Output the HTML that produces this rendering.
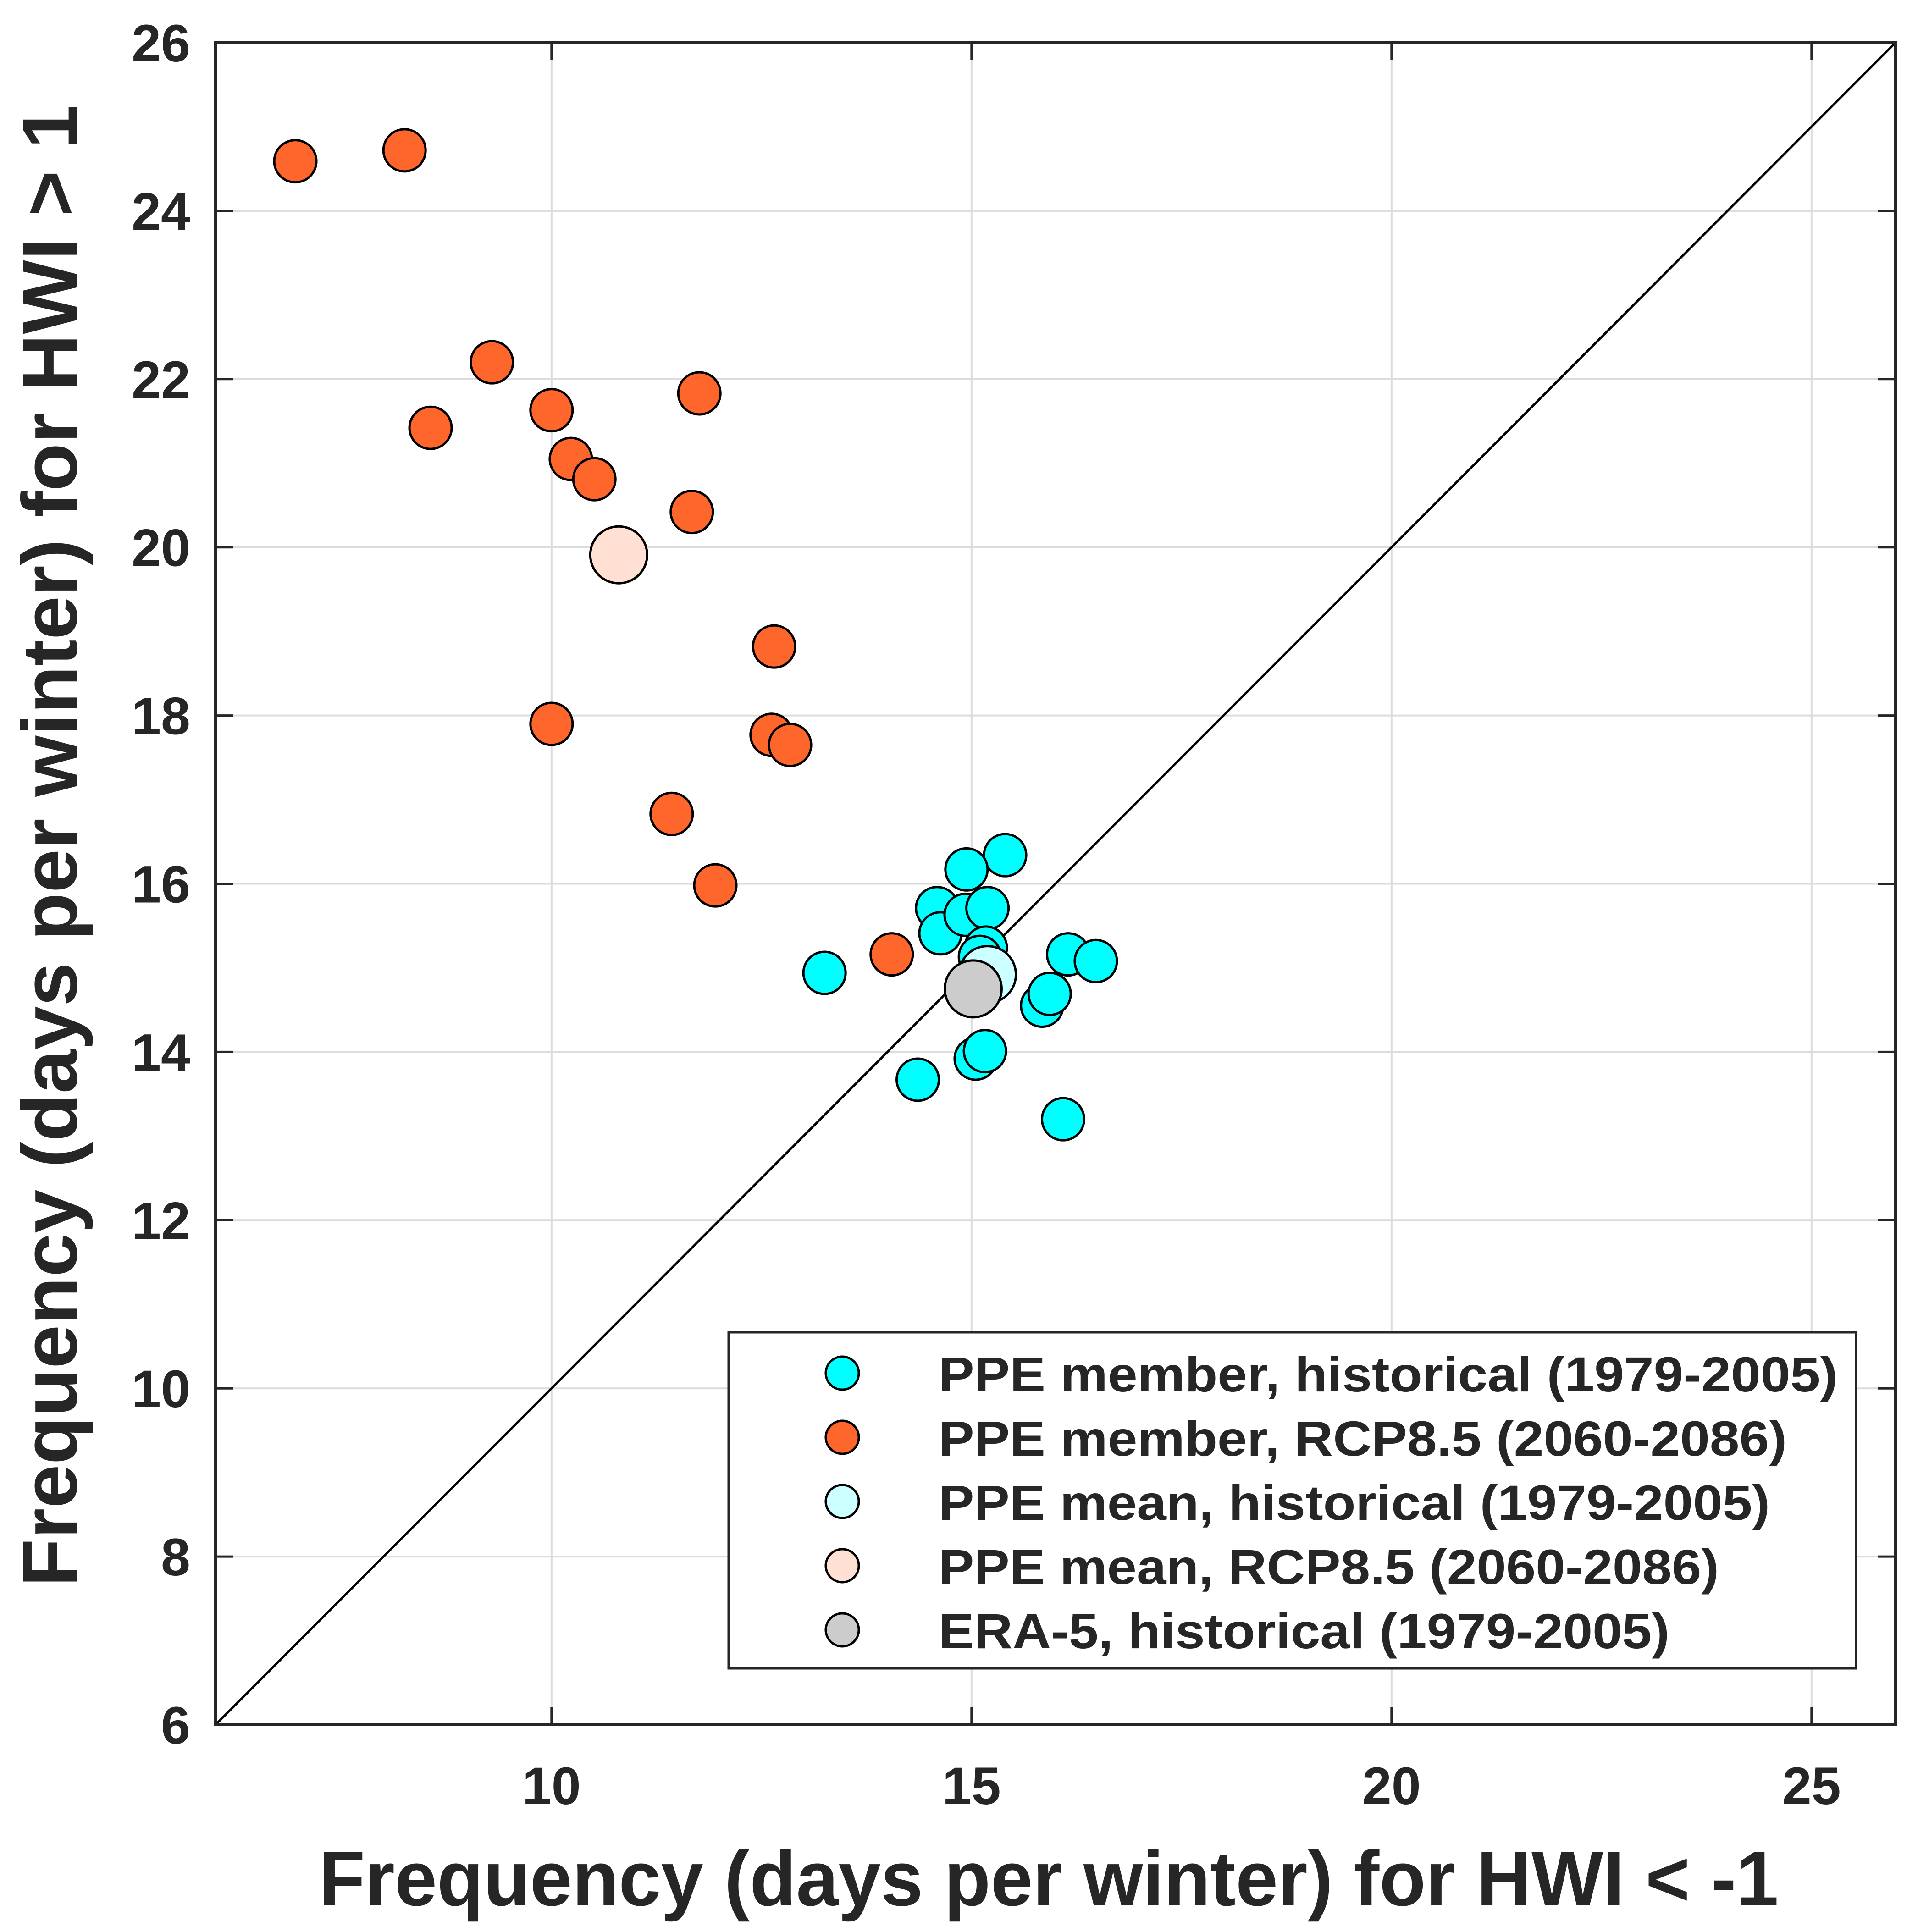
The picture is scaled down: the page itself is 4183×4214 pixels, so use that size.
<!DOCTYPE html>
<html><head><meta charset="utf-8"><style>
html,body{margin:0;padding:0;background:#fff}
svg{display:block}
text{font-family:"Liberation Sans",Arial,sans-serif;font-weight:bold;fill:#262626}
</style></head><body>
<svg id="chart" width="4183" height="4214" viewBox="0 0 4183 4214" xmlns="http://www.w3.org/2000/svg">
<g id="grid"></g>
<line id="diag" stroke="#000" stroke-width="5"/>
<g id="marks"></g>
<rect id="frame" fill="none" stroke="#262626" stroke-width="6"/>
<g id="ticks"></g>
<text x="2287" y="4156" font-size="170" text-anchor="middle" textLength="3184" lengthAdjust="spacingAndGlyphs">Frequency (days per winter) for HWI &lt; -1</text>
<text transform="translate(167,1845) rotate(-90)" font-size="170" text-anchor="middle" textLength="3232" lengthAdjust="spacingAndGlyphs">Frequency (days per winter) for HWI &gt; 1</text>
<g id="legend">
<rect x="1589" y="2906" width="2459" height="733" fill="#fff" stroke="#262626" stroke-width="5"/>
</g>
</svg>
<script>
const xTicks=[10,15,20,25];
const yTicks=[6,8,10,12,14,16,18,20,22,24,26];
const rcpX=[6.95,8.25,9.29,8.56,10.0,10.23,10.51,11.76,11.67,12.65,10.0,12.62,12.84,11.43,11.95,14.05];
const rcpY=[24.59,24.72,22.20,21.42,21.63,21.05,20.81,21.83,20.42,18.82,17.90,17.77,17.65,16.83,15.98,15.16];
const histX=[15.40,14.94,14.59,14.63,14.93,15.19,15.17,16.15,16.48,13.25,15.84,15.93,15.05,15.16,14.36,16.09,15.10];
const histY=[16.34,16.17,15.71,15.41,15.63,15.71,15.24,15.16,15.08,14.94,14.55,14.69,13.92,14.01,13.67,13.20,15.13];
const histMean=[15.19,14.92];
const rcpMean=[10.80,19.91];
const era5=[15.02,14.75];
const legendLabels=["PPE member, historical (1979-2005)","PPE member, RCP8.5 (2060-2086)","PPE mean, historical (1979-2005)","PPE mean, RCP8.5 (2060-2086)","ERA-5, historical (1979-2005)"];
const legendWidths=[1961,1850,1813,1702,1594];

const L=470,R=4134,T=93,B=3762,X0=6,X1=26,Y0=6,Y1=26;
const sx=v=>L+(v-X0)/(X1-X0)*(R-L);
const sy=v=>B-(v-Y0)/(Y1-Y0)*(B-T);
const NS='http://www.w3.org/2000/svg';
function mk(tag,attrs,parent){const e=document.createElementNS(NS,tag);for(const k in attrs)e.setAttribute(k,attrs[k]);parent.appendChild(e);return e;}
const grid=document.getElementById('grid'),ticks=document.getElementById('ticks'),marks=document.getElementById('marks'),chart=document.getElementById('chart');
const fr=document.getElementById('frame');fr.setAttribute('x',L);fr.setAttribute('y',T);fr.setAttribute('width',R-L);fr.setAttribute('height',B-T);
const dg=document.getElementById('diag');dg.setAttribute('x1',sx(6));dg.setAttribute('y1',sy(6));dg.setAttribute('x2',sx(26));dg.setAttribute('y2',sy(26));
xTicks.forEach(v=>{
  const x=sx(v);
  const g=mk('line',{x1:x,x2:x,y1:T,y2:B,stroke:'#dcdcdc','stroke-width':4},grid);
  
  
  [[T,T+38],[B,B-38]].forEach(p=>{const t=mk('line',{x1:x,x2:x,y1:p[0],y2:p[1],stroke:'#262626','stroke-width':5},ticks);
    
    });
  const lb=mk('text',{x:x,y:3935,'font-size':115,'text-anchor':'middle'},chart);lb.textContent=v;
  
  
});
yTicks.forEach(v=>{
  const y=sy(v);
  const g=mk('line',{x1:L,x2:R,y1:y,y2:y,stroke:'#dcdcdc','stroke-width':4},grid);
  
  
  [[L,L+38],[R,R-38]].forEach(p=>{const t=mk('line',{x1:p[0],x2:p[1],y1:y,y2:y,stroke:'#262626','stroke-width':5},ticks);
    
    });
  const lb=mk('text',{x:415,y:y+41,'font-size':115,'text-anchor':'end'},chart);lb.textContent=v;
  
  
});
function dot(x,y,r,fill,name){const c=mk('circle',{cx:sx(x),cy:sy(y),r:r,fill:fill,stroke:'#000','stroke-width':5},marks);
  
  }
rcpX.forEach((v,i)=>dot(v,rcpY[i],46,'#ff662b','rcp85-member-point'));
dot(rcpMean[0],rcpMean[1],62,'#ffe0d2','rcp85-mean-point');
histX.forEach((v,i)=>dot(v,histY[i],46,'#00ffff','historical-member-point'));
dot(histMean[0],histMean[1],62,'#ccffff','historical-mean-point');
dot(era5[0],era5[1],62,'#cccccc','era5-point');
const leg=document.getElementById('legend');
const legFills=['#00ffff','#ff662b','#ccffff','#ffe0d2','#cccccc'];
legendLabels.forEach((s,i)=>{
  const y=2995+i*140;
  const c=mk('circle',{cx:1837,cy:y,r:36,fill:legFills[i],stroke:'#000','stroke-width':5},leg);
  
  
  const t=mk('text',{x:2047,y:y+40,'font-size':108,textLength:legendWidths[i],lengthAdjust:'spacingAndGlyphs'},leg);t.textContent=s;
  
  
});
</script>
</body></html>
